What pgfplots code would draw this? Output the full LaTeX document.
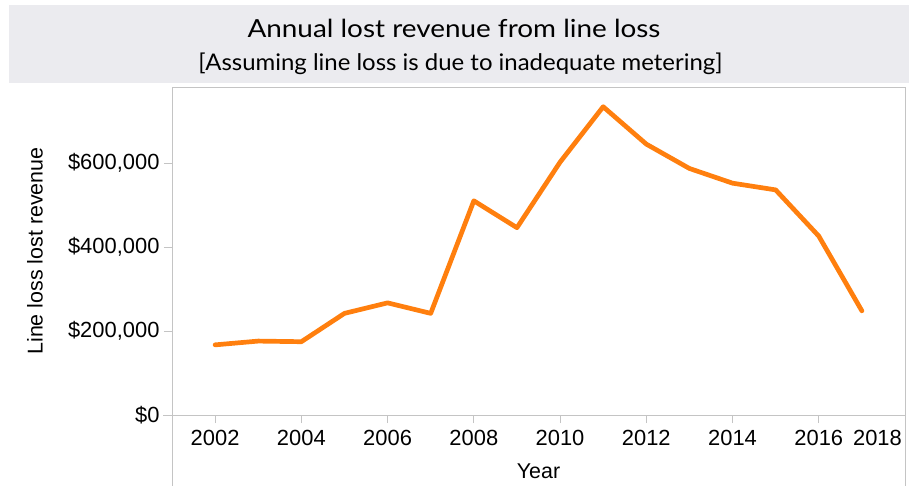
\documentclass[border=0pt]{standalone}
\usepackage{fontspec}
\setmainfont{Liberation Sans}
\newfontfamily\titlefont{Lato}
\usepackage{pgfplots}
\pgfplotsset{compat=1.18}
\definecolor{lineorange}{HTML}{FF7F0E}
\definecolor{bandgray}{HTML}{EBEBEF}
\definecolor{framegray}{HTML}{C4C4C4}
\begin{document}
\begin{tikzpicture}
\path[use as bounding box] (-172bp,-71bp) rectangle (737bp,415bp);
\fill[bandgray] (-163bp,332bp) rectangle (737bp,410bp);
\node[anchor=base, inner sep=0pt, font=\titlefont\fontsize{25}{29}\selectfont] at (282bp,377bp) {\scalebox{1.12}[1]{Annual lost revenue from line loss}};
\node[anchor=base, inner sep=0pt, font=\titlefont\fontsize{23}{27}\selectfont] at (288.5bp,344bp) {\scalebox{1.045}[1]{[Assuming line loss is due to inadequate metering]}};
\begin{axis}[
  at={(0bp,0bp)}, anchor=south west,
  scale only axis, width=733bp, height=328bp,
  xmin=2001, xmax=2018, ymin=0, ymax=781000,
  axis line style={draw=framegray, line width=0.9bp},
  tick style={draw=framegray, line width=0.9bp},
  tick align=outside,
  xtick pos=bottom, ytick pos=left,
  major tick length=8bp,
  xtick={2002,2004,2006,2008,2010,2012,2014,2016},
  xticklabels={2002,2004,2006,2008,2010,2012,2014,2016},
  extra x ticks={2018},
  extra x tick labels={2018},
  extra x tick style={xticklabel style={xshift=-27.5bp}},
  ytick={0,200000,400000,600000},
  yticklabels={\$0,\$200{,}000,\$400{,}000,\$600{,}000},
  scaled y ticks=false,
  ticklabel style={font=\fontsize{22}{26}\selectfont},
  xticklabel style={yshift=-3.5bp},
  yticklabel style={xshift=-1bp},
  xlabel={Year}, ylabel={Line loss lost revenue},
  label style={font=\fontsize{21.5}{25}\selectfont},
  xlabel style={at={(axis description cs:0.5,-0.1951)}, anchor=base},
  ylabel style={at={(axis description cs:-0.1869,0.5)}, anchor=center},
  clip=false,
]
\addplot[lineorange, line width=4.7bp, line join=round, line cap=round] coordinates {
(2002,167000) (2003,176000) (2004,174500) (2005,242000) (2006,267000)
(2007,242000) (2008,510000) (2009,446000) (2010,602000) (2011,734000)
(2012,645000) (2013,587000) (2014,552000) (2015,536000) (2016,426000)
(2017,248000)
};
\end{axis}
\draw[framegray, line width=0.9bp] (0bp,0bp) -- (-9bp,0bp);
\draw[framegray, line width=0.9bp] (0bp,0bp) -- (0bp,-71bp);
\draw[framegray, line width=0.9bp] (733bp,0bp) -- (733bp,-71bp);
\end{tikzpicture}
\end{document}
